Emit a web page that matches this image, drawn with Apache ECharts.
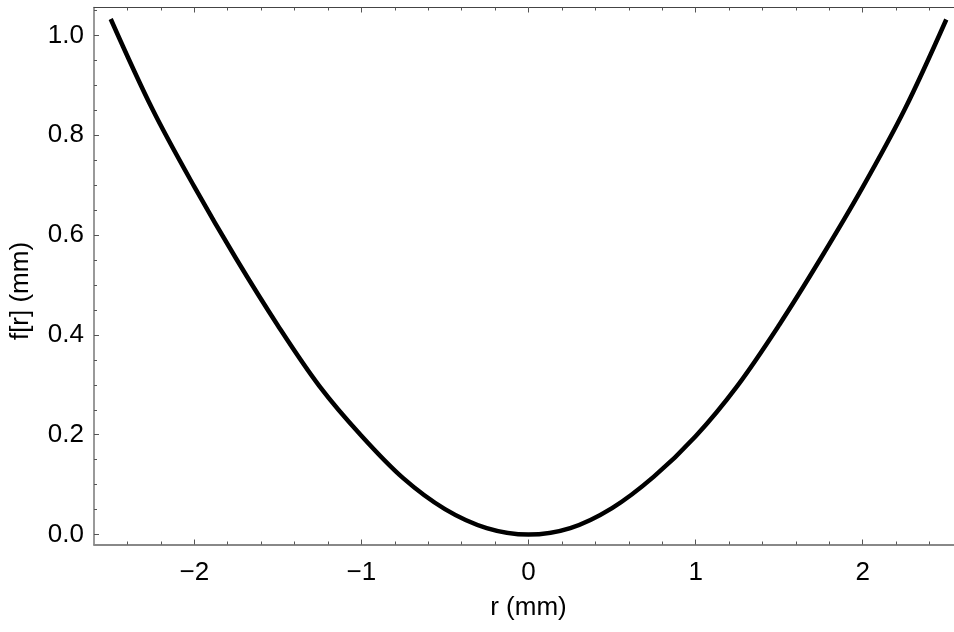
<!DOCTYPE html>
<html lang="en">
<head>
    <meta charset="UTF-8">
    <title>f[r]</title>
    <script src="https://cdn.jsdelivr.net/npm/echarts@6/dist/echarts.min.js"></script>
    <style>
        html, body { margin: 0; padding: 0; background: #fff; overflow: hidden; }
    </style>
</head>
<body>
<!-- the right edge of the frame falls just outside the picture, as in the original -->
<div id="main" style="width: 963px;height:632px;"></div>
<script>
    // values
    let rValues = [-2.5, -2.25, -2, -1.75, -1.5, -1.25, -1, -0.75, -0.5, -0.25, 0,
                   0.25, 0.5, 0.75, 1, 1.25, 1.5, 1.75, 2, 2.25, 2.5];
    let fValues = [1.033, 0.852, 0.697, 0.553, 0.419, 0.297, 0.198, 0.113, 0.051, 0.013, 0,
                   0.013, 0.053, 0.116, 0.197, 0.298, 0.420, 0.554, 0.696, 0.851, 1.032];

    let xMajorTicks = [-2, -1, 0, 1, 2];
    let xMinorTicks = [-2.4, -2.2, -1.8, -1.6, -1.4, -1.2, -0.8, -0.6, -0.4, -0.2,
                       0.2, 0.4, 0.6, 0.8, 1.2, 1.4, 1.6, 1.8, 2.2, 2.4];
    let yMajorTicks = [0, 0.2, 0.4, 0.6, 0.8, 1.0];
    let yMinorTicks = [0.05, 0.1, 0.15, 0.25, 0.3, 0.35, 0.45, 0.5, 0.55,
                       0.65, 0.7, 0.75, 0.85, 0.9, 0.95, 1.05];

    let font = 'Liberation Sans, Arial, Helvetica, sans-serif';
    let xRange = {min: -2.6, max: 2.6};
    let yRange = {min: -0.02, max: 1.056};

    // one axis = frame line + inward ticks at given values
    function frameAxis(pos, range, ticks, tickLen, lineOpt, labelOpt) {
        return {
            type: 'value',
            position: pos,
            min: range.min,
            max: range.max,
            axisLine: {
                show: !!lineOpt,
                onZero: false,
                lineStyle: lineOpt || {color: '#555'}
            },
            axisTick: {
                show: true,
                inside: true,
                length: tickLen,
                customValues: ticks,
                lineStyle: {color: '#555', width: 1}
            },
            axisLabel: labelOpt || {show: false},
            splitLine: {show: false}
        };
    }

    let xLabel = {
        show: true,
        customValues: xMajorTicks,
        fontSize: 26,
        fontFamily: font,
        color: '#000',
        margin: 15,
        formatter: function (v) {
            return v < 0 ? '\u2212' + Math.abs(v) : String(v);
        }
    };
    let yLabel = {
        show: true,
        customValues: yMajorTicks,
        fontSize: 26,
        fontFamily: font,
        color: '#000',
        margin: 10,
        formatter: function (v) {
            return v.toFixed(1);
        }
    };

    let xBottom = frameAxis('bottom', xRange, xMajorTicks, 5, {color: '#888', width: 2}, xLabel);
    xBottom.name = 'r (mm)';
    xBottom.nameLocation = 'middle';
    xBottom.nameGap = 50;
    xBottom.nameTextStyle = {fontSize: 26, fontFamily: font, color: '#000'};

    let yLeft = frameAxis('left', yRange, yMajorTicks, 5, {color: '#777', width: 1.5}, yLabel);
    yLeft.name = 'f[r] (mm)';
    yLeft.nameLocation = 'middle';
    yLeft.nameGap = 60;
    yLeft.nameTextStyle = {fontSize: 26, fontFamily: font, color: '#000', padding: [0, 30, 0, 0]};

    let myChart = echarts.init(document.getElementById('main'));
    let option = {
        backgroundColor: '#fff',
        animation: false,
        grid: {left: 94, right: 0, top: 7.5, height: 537},
        xAxis: [
            xBottom,
            frameAxis('bottom', xRange, xMinorTicks, 3, null, null),
            frameAxis('top', xRange, xMajorTicks, 5, {color: '#444', width: 1}, null),
            frameAxis('top', xRange, xMinorTicks, 3, null, null)
        ],
        yAxis: [
            yLeft,
            frameAxis('left', yRange, yMinorTicks, 3, null, null)
        ],
        series: [
            {
                type: 'line',
                xAxisIndex: 0,
                yAxisIndex: 0,
                data: rValues.map(function (r, i) {
                    return [r, fValues[i]];
                }),
                smooth: 0.35,
                showSymbol: false,
                lineStyle: {color: '#000', width: 4.5}
            }
        ]
    };
    myChart.setOption(option);
</script>
</body>
</html>
